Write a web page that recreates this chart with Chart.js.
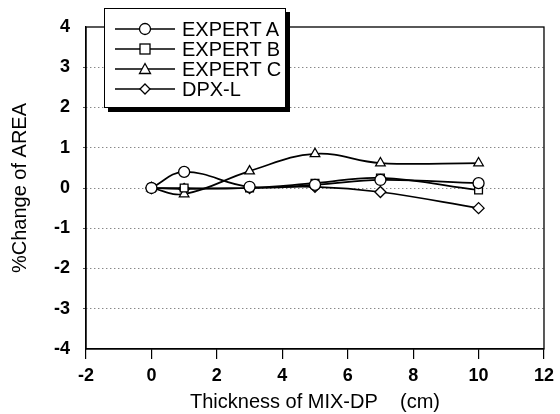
<!DOCTYPE html>
<html>
<head>
<meta charset="utf-8">
<script src="https://cdn.jsdelivr.net/npm/chart.js@4/dist/chart.umd.min.js"></script>
<style>
  html, body { margin: 0; padding: 0; background: #fff; }
  #wrap { position: relative; width: 560px; height: 414px; }
  #legend {
    position: absolute; left: 104px; top: 8px; width: 182px; height: 100px;
    background: #fff; border: 1.5px solid #000; box-shadow: 4px 4px 0 #000;
    font-family: "Liberation Sans", Arial, sans-serif; font-size: 20px; color: #000;
    padding-top: 10px; box-sizing: border-box;
  }
  .row { display: flex; align-items: center; height: 20px; }
  .row svg { margin-left: 10px; margin-right: 7px; }
</style>
</head>
<body>
<div id="wrap">
  <canvas id="c" width="560" height="414"></canvas>
  <div id="legend"></div>
</div>
<script>
const thickness = [0, 1, 3, 5, 7, 10];
const expertA = [0, 0.4, 0.03, 0.08, 0.2, 0.12];
const expertB = [0, 0, 0, 0.12, 0.25, -0.05];
const expertC = [0, -0.15, 0.42, 0.85, 0.62, 0.62];
const dpxL = [0, -0.02, 0.0, 0.03, -0.1, -0.5];
const seriesNames = ['EXPERT A', 'EXPERT B', 'EXPERT C', 'DPX-L'];
const yTicks = [-4, -3, -2, -1, 0, 1, 2, 3, 4];
const xTicks = [-2, 0, 2, 4, 6, 8, 10, 12];

const styles = ['circle', 'rect', 'triangle', 'rectRot'];
const values = [expertA, expertB, expertC, dpxL];

const datasets = values.map((vals, i) => ({
  label: seriesNames[i],
  data: thickness.map((x, j) => ({ x: x, y: vals[j] })),
  borderColor: '#000',
  borderWidth: 1.7,
  backgroundColor: '#fff',
  pointStyle: styles[i],
  pointRadius: 5.5,
  pointBorderWidth: 1.3,
  pointBorderColor: '#000',
  pointBackgroundColor: '#fff',
  tension: 0.4,
  fill: false
}));

const boxPlugin = {
  id: 'box',
  afterDraw(chart) {
    const { ctx, chartArea: a } = chart;
    ctx.save();
    ctx.strokeStyle = '#000';
    ctx.lineWidth = 1.3;
    ctx.strokeRect(a.left, a.top, a.right - a.left, a.bottom - a.top);
    ctx.restore();
  }
};

const tickFont = { family: '"Liberation Sans", Arial, sans-serif', size: 18, weight: 'bold' };
const titleFont = { family: '"Liberation Sans", Arial, sans-serif', size: 20 };

new Chart(document.getElementById('c'), {
  type: 'line',
  data: { datasets },
  plugins: [boxPlugin],
  options: {
    responsive: false,
    animation: false,
    layout: { padding: { left: 0, right: 13, top: 27, bottom: 0 } },
    plugins: { legend: { display: false }, tooltip: { enabled: false } },
    scales: {
      x: {
        type: 'linear', min: -2, max: 12,
        afterBuildTicks(s) { s.ticks = xTicks.map(v => ({ value: v })); },
        afterFit(s) { s.height = 65; },
        grid: { display: true, drawOnChartArea: false, drawTicks: true, tickLength: 10, color: '#000', lineWidth: 1.2 },
        border: { display: true, color: '#000', width: 1.3 },
        ticks: { color: '#000', font: tickFont, padding: 6 },
        title: { display: true, text: 'Thickness of MIX-DP    (cm)', color: '#000', font: titleFont, padding: { top: 0, bottom: 0 } }
      },
      y: {
        type: 'linear', min: -4, max: 4,
        afterBuildTicks(s) { s.ticks = yTicks.map(v => ({ value: v })); },
        afterFit(s) { s.width = 86; },
        grid: {
          display: true, drawTicks: true, tickLength: 3,
          color: (c) => (c.tick && (c.tick.value === 4 || c.tick.value === -4)) ? 'rgba(0,0,0,0)' : '#555',
          lineWidth: 1
        },
        border: { display: true, color: '#000', width: 1.3, dash: [1, 3] },
        ticks: { color: '#000', font: tickFont, padding: 13 },
        title: { display: true, text: '%Change of AREA', color: '#000', font: titleFont, padding: { top: 8, bottom: 8 } }
      }
    }
  }
});

// HTML legend built from datasets
const svgMarker = {
  circle: '<circle cx="30" cy="7" r="5.5" fill="#fff" stroke="#000" stroke-width="1.3"/>',
  rect: '<rect x="25" y="2" width="10" height="10" fill="#fff" stroke="#000" stroke-width="1.3"/>',
  triangle: '<polygon points="30,1.5 35.5,11.5 24.5,11.5" fill="#fff" stroke="#000" stroke-width="1.3"/>',
  rectRot: '<polygon points="30,2 35,7 30,12 25,7" fill="#fff" stroke="#000" stroke-width="1.3"/>'
};
const leg = document.getElementById('legend');
datasets.forEach(d => {
  const row = document.createElement('div');
  row.className = 'row';
  row.innerHTML = '<svg width="60" height="14"><line x1="0" y1="7" x2="60" y2="7" stroke="#000" stroke-width="1.5"/>' +
    svgMarker[d.pointStyle] + '</svg><span>' + d.label + '</span>';
  leg.appendChild(row);
});
</script>
</body>
</html>
